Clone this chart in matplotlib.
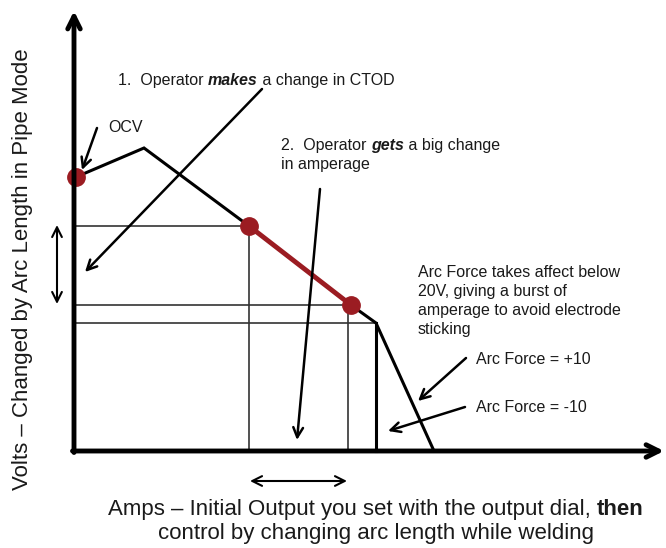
import matplotlib.pyplot as plt

plt.rcParams['font.family'] = ['Liberation Sans', 'DejaVu Sans']

# schematic volt-amp curve (arbitrary units, origin at axes corner)
curve_amps = [2, 70, 175, 277, 302, 360]
curve_volts = [274, 303, 225, 146, 128, 0]
dot_amps = [2, 175, 277]
dot_volts = [274, 225, 146]
knee_amps = 302
knee_volts = 128
hline_volts = [225, 146, 128]
hline_ends = [175, 277, 302]
vline_amps = [175, 274]
vline_tops = [225, 146]

red = '#9b1c22'
ink = '#1a1a1a'
fs = 11.5

fig = plt.figure(figsize=(6.66, 5.48), dpi=100)
ax = fig.add_axes([0, 0, 1, 1])
ax.set_xlim(-74, 592)
ax.set_ylim(-97, 451)
ax.axis('off')

# main axes with arrows
arr = dict(arrowstyle='->,head_length=0.9,head_width=0.45', lw=3.5, color='black',
           shrinkA=0, shrinkB=0)
ax.annotate('', xy=(0, 440), xytext=(0, -1.5), arrowprops=arr)
ax.annotate('', xy=(590, 0), xytext=(-1.5, 0), arrowprops=arr)

# thin reference lines
for v, e in zip(hline_volts, hline_ends):
    ax.plot([0, e], [v, v], color='#333333', lw=1.2)
for a, t in zip(vline_amps, vline_tops):
    ax.plot([a, a], [0, t], color='#333333', lw=1.2)
ax.plot([knee_amps, knee_amps], [0, knee_volts], color='black', lw=2.2)

# curve
ax.plot(curve_amps, curve_volts, color='black', lw=2.2, solid_joinstyle='miter')
ax.plot(dot_amps[1:], dot_volts[1:], color=red, lw=3.5)
ax.plot(dot_amps, dot_volts, 'o', color=red, ms=12.5)

# pointer arrows
pa = dict(arrowstyle='->,head_length=0.7,head_width=0.35', lw=1.8, color='black',
          shrinkA=0, shrinkB=0)
ax.annotate('', xy=(8, 281), xytext=(23, 323), arrowprops=pa)
ax.annotate('', xy=(11, 179), xytext=(188, 362), arrowprops=pa)
ax.annotate('', xy=(223, 11), xytext=(246, 262), arrowprops=pa)
ax.annotate('', xy=(344, 50), xytext=(392, 93), arrowprops=pa)
ax.annotate('', xy=(314, 20), xytext=(391, 44), arrowprops=pa)

# double arrows
da = dict(arrowstyle='<->,head_length=0.7,head_width=0.35', lw=1.5, color='black',
          shrinkA=0, shrinkB=0)
ax.annotate('', xy=(-17, 226), xytext=(-17, 147), arrowprops=da)
ax.annotate('', xy=(176, -30), xytext=(273, -30), arrowprops=da)


def runs(x, y, parts, size, ha='left'):
    # text runs with mixed weight/style side by side; x, y = baseline in pixels from top-left
    fig.canvas.draw()
    r = fig.canvas.get_renderer()
    ts = []
    for s, w, st in parts:
        ts.append(fig.text(0, 1 - y / 548, s, fontsize=size, color=ink, va='baseline',
                           fontweight=w, fontstyle=st))
    widths = [t.get_window_extent(renderer=r).width for t in ts]
    if ha == 'center':
        x = x - sum(widths) / 2
    for t, w in zip(ts, widths):
        t.set_x(x / 666)
        x += w


ax.text(34, 323, 'OCV', fontsize=fs, color=ink, va='center')
runs(118, 85, [('1.  Operator ', 'normal', 'normal'), ('makes', 'bold', 'italic'),
               (' a change in CTOD', 'normal', 'normal')], fs)
runs(281, 150, [('2.  Operator ', 'normal', 'normal'), ('gets', 'bold', 'italic'),
                (' a big change', 'normal', 'normal')], fs)
ax.text(207, 286, 'in amperage', fontsize=fs, color=ink, va='center')
ax.text(344, 150, 'Arc Force takes affect below\n20V, giving a burst of\n'
        'amperage to avoid electrode\nsticking', fontsize=fs, color=ink,
        va='center', linespacing=1.32)
ax.text(402, 92, 'Arc Force = +10', fontsize=fs, color=ink, va='center')
ax.text(402, 44, 'Arc Force = -10', fontsize=fs, color=ink, va='center')

ax.text(-51, 182, 'Volts \u2013 Changed by Arc Length in Pipe Mode', fontsize=16,
        color=ink, rotation=90, ha='center', va='center')
runs(376, 515, [('Amps \u2013 Initial Output you set with the output dial, ', 'normal', 'normal'),
                ('then', 'bold', 'normal')], 16, ha='center')
ax.text(302, -83, 'control by changing arc length while welding', fontsize=16,
        color=ink, ha='center', va='center')

fig.savefig('out.png', dpi=100)
